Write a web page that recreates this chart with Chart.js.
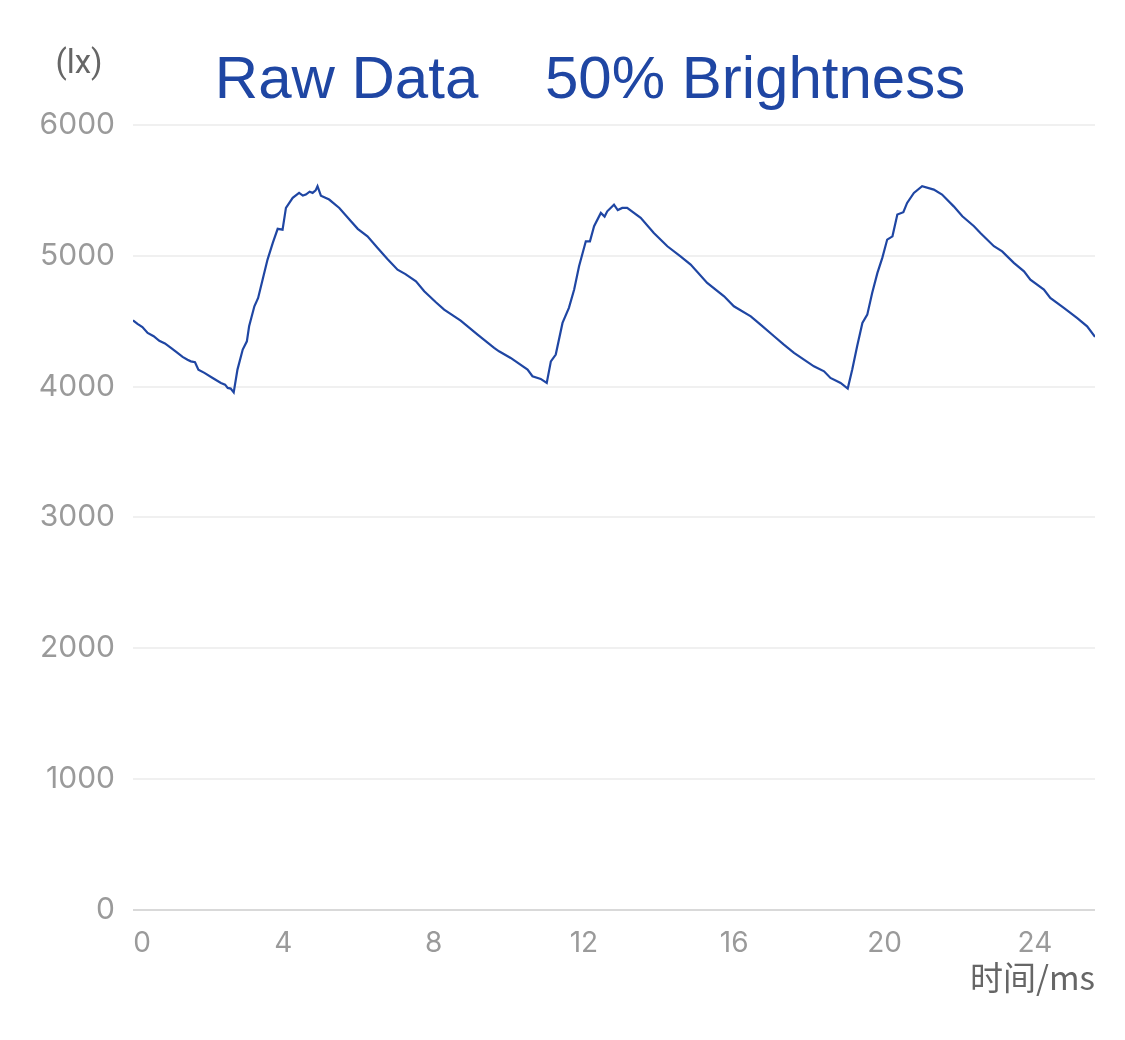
<!DOCTYPE html>
<html>
<head>
<meta charset="utf-8">
<title>Raw Data 50% Brightness</title>
<script src="https://cdn.jsdelivr.net/npm/chart.js@4/dist/chart.umd.min.js"></script>
<style>
    html, body { margin: 0; padding: 0; background: #fff; }
    #wrap { width: 1125px; height: 1040px; }
</style>
</head>
<body>
<div id="wrap"><canvas id="luxChart" width="1125" height="1040"></canvas></div>
<script>
// Час (мс) і освітленість (lx)
const timeMs = [
    0.00, 0.12, 0.25, 0.39, 0.55, 0.70, 0.85, 1.01, 1.15, 1.32, 1.45, 1.54, 1.65, 1.74, 1.90,
    2.12, 2.34, 2.45, 2.52, 2.60, 2.68, 2.78, 2.92, 3.03, 3.09, 3.23, 3.33, 3.45, 3.58, 3.72,
    3.85, 3.98, 4.07, 4.25, 4.42, 4.52, 4.60, 4.70, 4.78, 4.86, 4.91, 5.00, 5.22, 5.49, 5.80,
    5.98, 6.24, 6.51, 6.77, 7.04, 7.25, 7.53, 7.75, 8.06, 8.28, 8.72, 9.17, 9.61, 9.74, 10.05,
    10.50, 10.63, 10.85, 11.01, 11.12, 11.25, 11.43, 11.60, 11.74, 11.87, 12.05, 12.16, 12.27, 12.45, 12.55,
    12.62, 12.80, 12.90, 13.02, 13.15, 13.51, 13.86, 14.22, 14.57, 14.84, 15.28, 15.73, 15.99, 16.44, 16.70,
    17.06, 17.32, 17.59, 18.12, 18.39, 18.56, 18.83, 19.02, 19.14, 19.27, 19.41, 19.54, 19.67, 19.81, 19.94,
    20.07, 20.21, 20.34, 20.50, 20.60, 20.78, 21.00, 21.31, 21.53, 21.84, 22.07, 22.38, 22.55, 22.91, 23.13,
    23.44, 23.71, 23.88, 24.24, 24.41, 24.77, 25.12, 25.39, 25.60
];
const luxValues = [
    4507, 4480, 4455, 4410, 4385, 4350, 4330, 4296, 4265, 4227, 4205, 4193, 4186, 4130, 4105,
    4066, 4028, 4015, 3990, 3985, 3956, 4130, 4283, 4346, 4461, 4614, 4678, 4818, 4971, 5099,
    5206, 5200, 5366, 5443, 5481, 5460, 5468, 5490, 5481, 5500, 5532, 5460, 5430, 5366, 5264,
    5206, 5149, 5060, 4976, 4894, 4860, 4805, 4729, 4645, 4589, 4505, 4398, 4296, 4270, 4219,
    4130, 4079, 4059, 4028, 4193, 4245, 4487, 4602, 4742, 4920, 5111, 5111, 5226, 5328, 5300,
    5340, 5391, 5350, 5366, 5366, 5290, 5175, 5073, 4996, 4933, 4793, 4690, 4614, 4537, 4474,
    4385, 4321, 4258, 4155, 4117, 4066, 4028, 3985, 4130, 4308, 4487, 4550, 4716, 4869, 4984,
    5124, 5149, 5315, 5333, 5404, 5481, 5532, 5506, 5468, 5378, 5302, 5226, 5175, 5073, 5034,
    4946, 4881, 4818, 4742, 4678, 4602, 4525, 4461, 4380
];

// Осі
const xMax = 25.6;
const xStep = 4;
const yMax = 6000;
const yStep = 1000;

const titleText = 'Raw Data    50% Brightness';
const yUnitText = '(lx)';
const xUnitText = '时间/ms';

const blue = '#1f46a3';
const tickGray = '#9a9a9a';
const nameGray = '#666666';

// Заголовок і підпис одиниць над віссю Y
const headerPlugin = {
    id: 'header',
    afterDraw(chart) {
        const ctx = chart.ctx;
        const area = chart.chartArea;
        ctx.save();
        ctx.fillStyle = blue;
        ctx.font = '60px "Liberation Sans", Arial, sans-serif';
        ctx.textAlign = 'center';
        ctx.textBaseline = 'alphabetic';
        ctx.fillText(titleText, (area.left + area.right) / 2 - 24, 98);

        ctx.fillStyle = nameGray;
        ctx.font = '33px Roboto, "Liberation Sans", sans-serif';
        ctx.textBaseline = 'middle';
        ctx.fillText(yUnitText, area.left - 54, 65);
        ctx.restore();
    }
};

const points = timeMs.map((t, i) => ({ x: t, y: luxValues[i] }));

const ctx = document.getElementById('luxChart').getContext('2d');
const luxChart = new Chart(ctx, {
    type: 'line',
    data: {
        datasets: [{
            label: 'lx',
            data: points,
            borderColor: blue,
            borderWidth: 2.2,
            pointRadius: 0,
            tension: 0,
            fill: false
        }]
    },
    options: {
        responsive: false,
        animation: false,
        layout: {
            padding: { top: 125, right: 30, bottom: 43, left: 0 }
        },
        plugins: {
            legend: { display: false },
            tooltip: { enabled: false }
        },
        scales: {
            x: {
                type: 'linear',
                min: 0,
                max: xMax,
                border: { display: false },
                grid: { display: false, drawTicks: false },
                ticks: {
                    stepSize: xStep,
                    includeBounds: false,
                    autoSkip: false,
                    maxRotation: 0,
                    padding: 17,
                    color: tickGray,
                    font: { family: 'Inter, Roboto, sans-serif', size: 28 },
                    // нульову мітку зсуваємо вправо, як на оригіналі
                    callback: (v) => v === 0 ? '\u20070' : String(v)
                },
                title: {
                    display: true,
                    text: xUnitText,
                    align: 'end',
                    color: nameGray,
                    padding: { top: -20, bottom: 0 },
                    font: { family: '"Noto Sans CJK SC", Roboto, sans-serif', size: 33 }
                }
            },
            y: {
                min: 0,
                max: yMax,
                afterFit: (scale) => { scale.width = 133; },
                border: { display: false },
                grid: {
                    drawTicks: false,
                    lineWidth: 2,
                    color: (c) => c.tick && c.tick.value === 0 ? '#d9d9d9' : '#f0f0f0'
                },
                ticks: {
                    stepSize: yStep,
                    padding: 18,
                    color: tickGray,
                    font: { family: 'Inter, Roboto, sans-serif', size: 30 },
                    callback: (v) => String(v)
                }
            }
        }
    },
    plugins: [headerPlugin]
});
</script>
</body>
</html>
